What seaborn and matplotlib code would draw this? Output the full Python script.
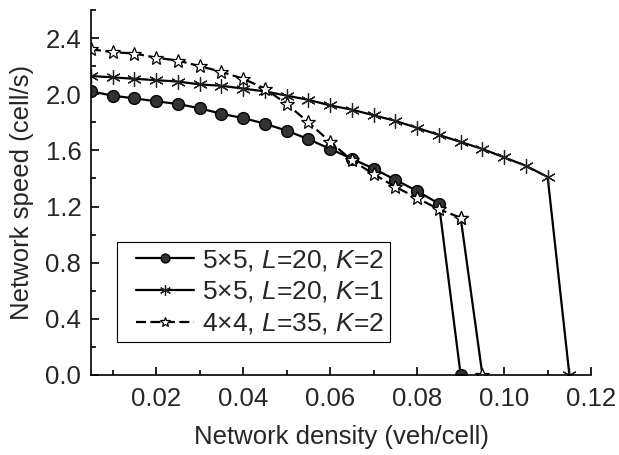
import numpy as np
import seaborn as sns
import matplotlib.pyplot as plt
from matplotlib.lines import Line2D
from matplotlib.legend_handler import HandlerLine2D
from matplotlib.ticker import MultipleLocator, FormatStrFormatter

# network density (veh/cell)
density_5x5 = [0.005, 0.01, 0.015, 0.02, 0.025, 0.03, 0.035, 0.04, 0.045, 0.05,
               0.055, 0.06, 0.065, 0.07, 0.075, 0.08, 0.085, 0.09]
speed_5x5_k2 = [2.02, 1.99, 1.97, 1.95, 1.93, 1.90, 1.86, 1.83, 1.79, 1.74,
                1.68, 1.61, 1.54, 1.47, 1.39, 1.31, 1.22, 0.0]

density_5x5_k1 = [0.005, 0.01, 0.015, 0.02, 0.025, 0.03, 0.035, 0.04, 0.045, 0.05,
                  0.055, 0.06, 0.065, 0.07, 0.075, 0.08, 0.085, 0.09, 0.095, 0.10,
                  0.105, 0.11, 0.115]
speed_5x5_k1 = [2.13, 2.12, 2.11, 2.10, 2.09, 2.07, 2.06, 2.04, 2.02, 1.99,
                1.96, 1.92, 1.89, 1.85, 1.81, 1.76, 1.71, 1.66, 1.61, 1.55,
                1.49, 1.41, 0.0]

density_4x4 = [0.005, 0.01, 0.015, 0.02, 0.025, 0.03, 0.035, 0.04, 0.045, 0.05,
               0.055, 0.06, 0.065, 0.07, 0.075, 0.08, 0.085, 0.09, 0.095]
speed_4x4_k2 = [2.32, 2.30, 2.29, 2.26, 2.24, 2.20, 2.16, 2.11, 2.04, 1.93,
                1.80, 1.66, 1.53, 1.43, 1.34, 1.26, 1.18, 1.12, 0.0]

labels = ["5×5, $\\it{L}$=20, $\\it{K}$=2",
          "5×5, $\\it{L}$=20, $\\it{K}$=1",
          "4×4, $\\it{L}$=35, $\\it{K}$=2"]

sns.set_style("ticks")
plt.rcParams['font.family'] = ['Liberation Sans', 'DejaVu Sans']
plt.rcParams['mathtext.fontset'] = 'custom'
plt.rcParams['mathtext.rm'] = 'Liberation Sans'
plt.rcParams['mathtext.it'] = 'Liberation Sans:italic'

fs = 18.5
fig = plt.figure(figsize=(6.19, 4.55), dpi=100)
ax = fig.add_axes([0.147, 0.176, 0.808, 0.802])

lw = 1.6
sns.lineplot(x=density_5x5, y=speed_5x5_k2, ax=ax, color='black', lw=lw,
             marker='o', markersize=8.5, markerfacecolor='#333333',
             markeredgecolor='black', markeredgewidth=1.0, label=labels[0])
sns.lineplot(x=density_5x5_k1, y=speed_5x5_k1, ax=ax, color='black', lw=lw,
             marker=(6, 2, 0), markersize=10.5, markeredgewidth=0.9,
             markeredgecolor='#222222', label=labels[1])
# dashed part, then the solid drop to zero
sns.lineplot(x=density_4x4[:-1], y=speed_4x4_k2[:-1], ax=ax, color='black', lw=lw,
             linestyle=(0, (4.5, 2)), marker='*', markersize=10,
             markerfacecolor='white', markeredgecolor='black',
             markeredgewidth=0.9, label=labels[2])
sns.lineplot(x=density_4x4[-2:], y=speed_4x4_k2[-2:], ax=ax, color='black', lw=lw,
             marker='*', markersize=10, markerfacecolor='white',
             markeredgecolor='black', markeredgewidth=0.9, legend=False)

ax.set_xlim(0.005, 0.12)
ax.set_ylim(0, 2.6)
ax.xaxis.set_major_locator(MultipleLocator(0.02))
ax.xaxis.set_minor_locator(MultipleLocator(0.01))
ax.yaxis.set_major_locator(MultipleLocator(0.4))
ax.yaxis.set_minor_locator(MultipleLocator(0.2))
ax.xaxis.set_major_formatter(FormatStrFormatter('%.2f'))
ax.yaxis.set_major_formatter(FormatStrFormatter('%.1f'))
ax.set_xticks([0.02, 0.04, 0.06, 0.08, 0.10, 0.12])
ax.tick_params(which='major', direction='in', length=6, width=1.2, labelsize=fs, color='black')
ax.tick_params(which='minor', direction='in', length=3.5, width=1.2, color='black')
ax.tick_params(axis='x', which='major', pad=9)
ax.tick_params(axis='y', which='major', pad=7)
for s in ['top', 'right']:
    ax.spines[s].set_visible(False)
for s in ['left', 'bottom']:
    ax.spines[s].set_linewidth(1.2)
    ax.spines[s].set_color('black')

ax.set_xlabel("Network density (veh/cell)", fontsize=fs, labelpad=10)
ax.set_ylabel("Network speed (cell/s)", fontsize=fs, labelpad=8)

leg = ax.legend(loc='lower left', bbox_to_anchor=(0.052, 0.09), borderaxespad=0,
                fontsize=19, handlelength=2.7, frameon=True, fancybox=False,
                edgecolor='black', framealpha=1, borderpad=0.22, labelspacing=0.26,
                handletextpad=0.3, markerscale=0.75,
                handler_map={Line2D: HandlerLine2D(xpad=0.5)})
leg.get_frame().set_linewidth(0.8)

fig.savefig("out.png", dpi=100)
